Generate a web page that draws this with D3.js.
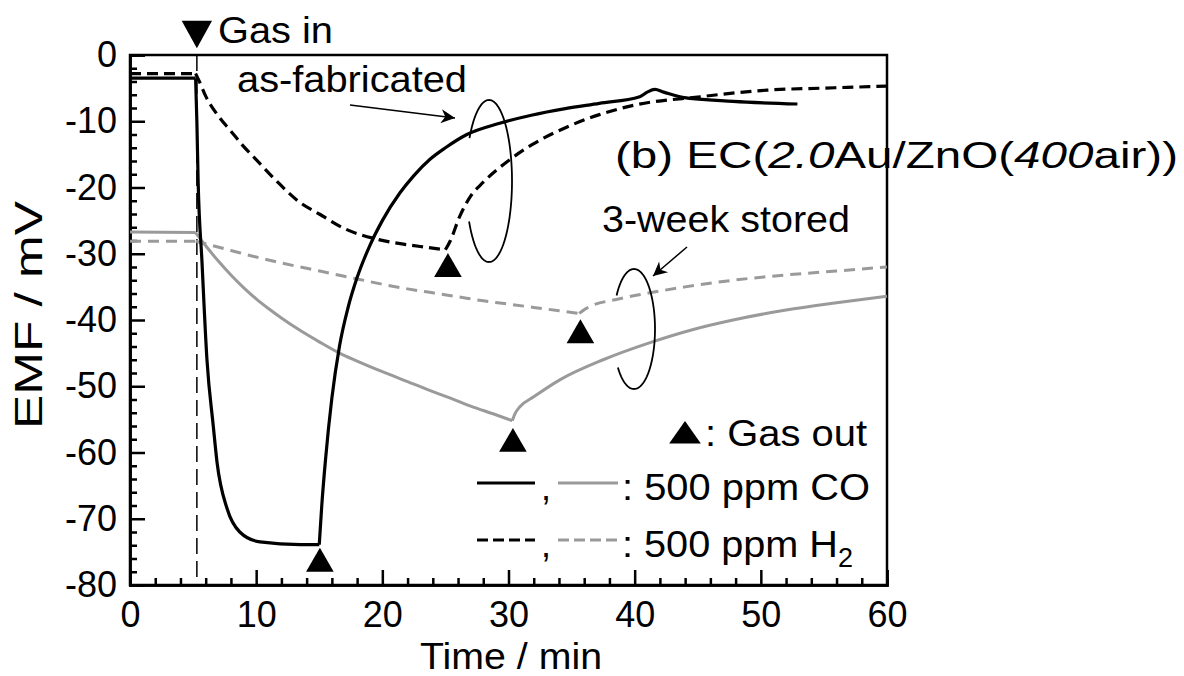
<!DOCTYPE html>
<html><head><meta charset="utf-8">
<script src="https://cdn.jsdelivr.net/npm/d3@7"></script>
<style>
html,body{margin:0;padding:0;background:#fff;}
svg{display:block;font-family:"Liberation Sans",Arial,sans-serif;}
</style></head>
<body><svg id="c" width="1184" height="676"></svg>
<script>
// ---- data (time in min, EMF in mV) ----
const xTicks = [0,10,20,30,40,50,60];
const yTicks = [0,-10,-20,-30,-40,-50,-60,-70,-80];
const gasInTime = 5.3;
const asFabCO = [[0,-3.5],[5.2,-3.5],[5.3,-10],[5.4,-19],[5.7,-31],[6.1,-46],[6.6,-56],[6.9,-61.5],[7.7,-68.5],[8.7,-72],[10.3,-73.5],[13.5,-73.9],[15,-73.9],[15.2,-68],[15.5,-61],[16,-51.8],[16.6,-44],[17.3,-38],[18,-33.6],[19,-28.8],[20,-25],[21.4,-20.8],[22.5,-18.2],[23.8,-15.7],[25,-14],[26.7,-12],[29.3,-10.3],[31.9,-9.05],[34.5,-8.1],[37.2,-7.3],[40.4,-6.3],[41,-5.6],[41.6,-5.2],[42.3,-5.6],[43.8,-6.4],[47.8,-7.0],[52.9,-7.4]];
const asFabH2 = [[0,-2.8],[5.2,-2.8],[5.5,-4],[6,-6.2],[7,-9.2],[8,-11.5],[9,-13.8],[10,-15.8],[11.5,-18.8],[13.5,-22.3],[15,-24],[17,-26.2],[19.8,-27.9],[23,-28.9],[25,-29.4],[25.4,-28],[26.1,-24.5],[27,-21.3],[28,-19.2],[30.1,-15.8],[31.9,-13.5],[34.6,-10.9],[37.2,-9],[39.9,-7.6],[45.2,-6.3],[50.5,-5.3],[55,-5],[60,-4.7]];
const storedCO = [[0,-26.7],[5.2,-26.8],[6,-28.8],[7,-31.1],[8,-33.2],[9,-35.1],[10,-36.8],[11,-38.3],[12,-39.7],[13.5,-41.6],[15,-43.3],[16.6,-45],[18,-46.2],[20,-47.8],[22,-49.3],[24,-50.8],[25.4,-51.8],[27,-53],[29,-54.3],[30.3,-55.2],[30.5,-54.2],[30.9,-53.1],[32,-51.6],[34.1,-49],[37.5,-46],[41.4,-43.3],[44.5,-41.5],[47.8,-40],[52,-38.5],[56,-37.4],[60,-36.4]];
const storedH2 = [[0,-28.1],[5.2,-28.1],[6,-28.5],[8,-29.5],[10,-30.5],[12,-31.4],[14,-32.2],[16,-33],[18,-33.8],[20,-34.6],[22,-35.3],[24,-35.9],[26,-36.5],[28,-37.1],[30,-37.6],[32,-38.1],[34,-38.6],[35.6,-39],[36.2,-38.2],[38.8,-36.8],[41.2,-35.9],[44,-35],[47.8,-34],[52,-33.2],[56,-32.6],[60,-32]];
const gasOutTimes = [15, 25, 30.3, 35.6]; // asFabCO, asFabH2, storedCO, storedH2
const gasOut = [[15.05,-76.8],[25.2,-32.3],[30.35,-58.7],[35.7,-42.3]];

// ---- layout ----
const svg = d3.select("#c");
const x = d3.scaleLinear().domain([0,60]).range([130,887]);
const y = d3.scaleLinear().domain([-80,0]).range([585,55]);
const FONT = 36;
const BLACK = "#000", GRAY = "#9a9a9a";

// frame
svg.append("rect").attr("x",x(0)).attr("y",y(0)).attr("width",x(60)-x(0)).attr("height",y(-80)-y(0))
  .attr("fill","none").attr("stroke",BLACK).attr("stroke-width",2.5);

// axes
const fmt = d => String(d);
const minorX = d3.range(0,61,2).filter(v=>v%10!==0);
const minorY = d3.range(-80,1,2).filter(v=>v%10!==0);
const gx = svg.append("g").attr("transform",`translate(0,${y(-80)})`)
  .call(d3.axisBottom(x).tickValues(xTicks).tickSize(-15).tickPadding(16).tickFormat(fmt));
const gxm = svg.append("g").attr("transform",`translate(0,${y(-80)})`)
  .call(d3.axisBottom(x).tickValues(minorX).tickSize(-7).tickFormat(""));
const gy = svg.append("g").attr("transform",`translate(${x(0)},0)`)
  .call(d3.axisLeft(y).tickValues(yTicks).tickSize(-15).tickPadding(13).tickFormat(fmt));
const gym = svg.append("g").attr("transform",`translate(${x(0)},0)`)
  .call(d3.axisLeft(y).tickValues(minorY).tickSize(-7).tickFormat(""));
[gx,gxm,gy,gym].forEach(g=>{
  g.select(".domain").attr("stroke-width",2.5);
  g.selectAll(".tick line").attr("stroke-width",2.5);
  g.selectAll("text").attr("font-size",FONT).attr("font-family","Liberation Sans, Arial, sans-serif").attr("fill","#000");
});

// axis titles
svg.append("text").attr("x",511).attr("y",669).attr("text-anchor","middle").attr("font-size",FONT)
  .attr("textLength",182).attr("lengthAdjust","spacingAndGlyphs").text("Time / min");
svg.append("text").attr("transform",`translate(42,315) rotate(-90)`).attr("text-anchor","middle").attr("font-size",38)
  .attr("textLength",228).attr("lengthAdjust","spacingAndGlyphs").text("EMF / mV");

// gas-in dashed line
svg.append("line").attr("x1",x(gasInTime)).attr("x2",x(gasInTime)).attr("y1",y(0)).attr("y2",y(-80))
  .attr("stroke",BLACK).attr("stroke-width",1.5).attr("stroke-dasharray","16,7");

// curves: smooth within each phase, sharp corners at gas in / gas out
const smooth = d3.line().x(d=>x(d[0])).y(d=>y(d[1])).curve(d3.curveMonotoneX);
function phased(data, tOut){
  const breaks = [5.2, tOut];
  const segs = [];
  let cur = [];
  data.forEach(d=>{
    cur.push(d);
    if (breaks.includes(d[0])) { segs.push(cur); cur = [d]; }
  });
  if (cur.length > 1) segs.push(cur);
  return segs.map(s=>smooth(s)).join("");
}
svg.append("path").attr("d",phased(storedH2,gasOutTimes[3])).attr("fill","none").attr("stroke",GRAY).attr("stroke-width",3).attr("stroke-dasharray","11,7");
svg.append("path").attr("d",phased(storedCO,gasOutTimes[2])).attr("fill","none").attr("stroke",GRAY).attr("stroke-width",3);
svg.append("path").attr("d",phased(asFabH2,gasOutTimes[1])).attr("fill","none").attr("stroke",BLACK).attr("stroke-width",3.2).attr("stroke-dasharray","11,6");
svg.append("path").attr("d",phased(asFabCO,gasOutTimes[0])).attr("fill","none").attr("stroke",BLACK).attr("stroke-width",3.2);

// gas-out triangles
const tri = d3.symbol().type(d3.symbolTriangle).size(330);
svg.selectAll(".go").data(gasOut).join("path").attr("class","go")
  .attr("transform",d=>`translate(${x(d[0])},${y(d[1])})`).attr("d",tri).attr("fill",BLACK);

// gas-in marker (down triangle) and text
svg.append("path").attr("d",tri).attr("fill",BLACK)
  .attr("transform",`translate(${x(gasInTime)},30) rotate(180) scale(1.1,1.15)`);
svg.append("text").attr("x",218).attr("y",43).attr("font-size",FONT)
  .attr("textLength",115).attr("lengthAdjust","spacingAndGlyphs").text("Gas in");

// annotations
svg.append("text").attr("x",237).attr("y",92).attr("font-size",FONT)
  .attr("textLength",230).attr("lengthAdjust","spacingAndGlyphs").text("as-fabricated");
svg.append("text").attr("x",602).attr("y",232).attr("font-size",FONT)
  .attr("textLength",248).attr("lengthAdjust","spacingAndGlyphs").text("3-week stored");
const title = svg.append("text").attr("x",615).attr("y",168).attr("font-size",37)
  .attr("textLength",563).attr("lengthAdjust","spacingAndGlyphs");
title.append("tspan").text("(b) EC(");
title.append("tspan").attr("font-style","italic").text("2.0");
title.append("tspan").text("Au/ZnO(");
title.append("tspan").attr("font-style","italic").text("400");
title.append("tspan").text("air))");

// arrow markers
const defs = svg.append("defs");
defs.append("marker").attr("id","ah").attr("viewBox","0 0 10 10").attr("refX",10).attr("refY",5)
  .attr("markerWidth",24).attr("markerHeight",14).attr("markerUnits","userSpaceOnUse").attr("orient","auto")
  .append("path").attr("d","M0,0 L10,5 L0,10 L3,5 Z").attr("fill",BLACK);
svg.append("line").attr("x1",350).attr("y1",105).attr("x2",455).attr("y2",118)
  .attr("stroke",BLACK).attr("stroke-width",1.5).attr("marker-end","url(#ah)");
svg.append("line").attr("x1",687).attr("y1",247).attr("x2",653).attr("y2",276)
  .attr("stroke",BLACK).attr("stroke-width",1.5).attr("marker-end","url(#ah)");

// open ellipses
function openEllipse(cx,cy,rx,ry,a0,a1){
  const pts = d3.range(a0,a1+0.001,2).map(a=>[cx+rx*Math.cos(a*Math.PI/180), cy+ry*Math.sin(a*Math.PI/180)]);
  return d3.line().curve(d3.curveLinear)(pts);
}
svg.append("path").attr("d",openEllipse(489,181,23,81,212,510)).attr("fill","none").attr("stroke",BLACK).attr("stroke-width",1.8);
svg.append("path").attr("d",openEllipse(634,329,21,60,214,500)).attr("fill","none").attr("stroke",BLACK).attr("stroke-width",1.8);

// legend
const legTri = d3.symbol().type(d3.symbolTriangle).size(360);
svg.append("path").attr("d",legTri).attr("fill",BLACK).attr("transform","translate(685,436) scale(1.1,0.9)");
svg.append("text").attr("x",867).attr("y",446).attr("text-anchor","end").attr("font-size",FONT)
  .attr("textLength",162).attr("lengthAdjust","spacingAndGlyphs").text(": Gas out");

svg.append("line").attr("x1",477).attr("x2",535).attr("y1",483).attr("y2",483).attr("stroke",BLACK).attr("stroke-width",3.2);
svg.append("line").attr("x1",558).attr("x2",618).attr("y1",483).attr("y2",483).attr("stroke",GRAY).attr("stroke-width",3);
svg.append("text").attr("x",541).attr("y",500).attr("font-size",FONT).text(",");
svg.append("text").attr("x",870).attr("y",500).attr("text-anchor","end").attr("font-size",FONT)
  .attr("textLength",248).attr("lengthAdjust","spacingAndGlyphs").text(": 500 ppm CO");

svg.append("line").attr("x1",477).attr("x2",535).attr("y1",540).attr("y2",540).attr("stroke",BLACK).attr("stroke-width",3.2).attr("stroke-dasharray","11,5");
svg.append("line").attr("x1",558).attr("x2",618).attr("y1",540).attr("y2",540).attr("stroke",GRAY).attr("stroke-width",3).attr("stroke-dasharray","11,5");
svg.append("text").attr("x",541).attr("y",557).attr("font-size",FONT).text(",");
const h2 = svg.append("text").attr("x",622).attr("y",557).attr("font-size",FONT);
h2.append("tspan").attr("textLength",216).attr("lengthAdjust","spacingAndGlyphs").text(": 500 ppm H");
h2.append("tspan").attr("font-size",27).attr("dy",10).text("2");
</script></body></html>
